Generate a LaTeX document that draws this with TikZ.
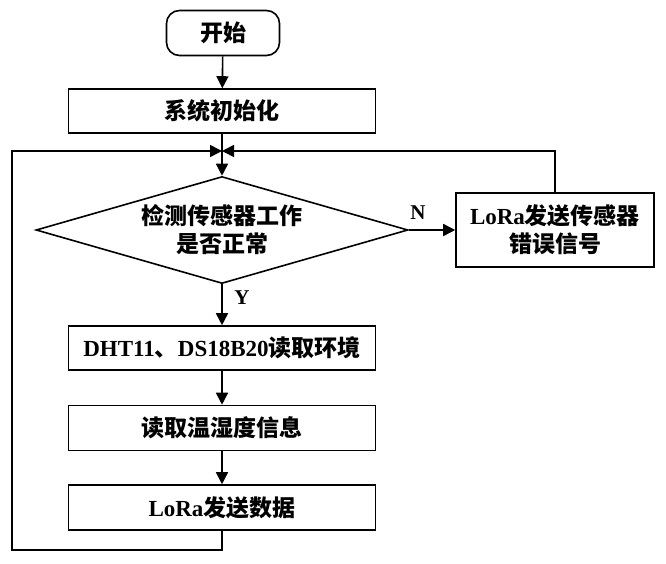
\documentclass[tikz,border=0pt]{standalone}
\usepackage{fontspec}
\setmainfont{Liberation Serif}
\newfontfamily\cjk{Noto Sans CJK SC}
\newcommand{\zh}[1]{{\cjk #1}}
\usetikzlibrary{shapes.geometric,arrows.meta}

\begin{document}
\begin{tikzpicture}[x=1pt,y=-1pt,line width=1.6pt,
    every node/.style={font=\bfseries\fontsize{23}{28}\selectfont},
    box/.style={draw,minimum width=307pt,minimum height=44pt,inner sep=0pt},
    startbox/.style={draw,rounded corners=13pt,minimum width=113pt,minimum height=45pt,inner sep=0pt},
    decide/.style={draw,diamond,aspect=3.48,minimum width=372pt,minimum height=107pt,inner sep=0pt,align=center},
    lbl/.style={font=\bfseries\fontsize{21}{24}\selectfont},
    arr/.style={-{Triangle[length=12pt,width=12pt]}}]
    \useasboundingbox (0,0) rectangle (666,563);

    % Main column
    \node[startbox] (start) at (223,33) {\zh{开始}};
    \node[box] (init) at (222,111) {\zh{系统初始化}};
    \coordinate (merge) at (222,151);
    \node[decide] (check) at (222,230) {\zh{检测传感器工作}\\\zh{是否正常}};
    \node[box] (dht) at (222,348) {DHT11\zh{、}DS18B20\zh{读取环境}};
    \node[box,minimum height=45pt] (read) at (222,428) {\zh{读取温湿度信息}};
    \node[box,minimum height=45pt] (send) at (222,507.5) {LoRa\zh{发送数据}};

    % Error branch
    \node[draw,minimum width=198pt,minimum height=74pt,inner sep=0pt,align=center] (err) at (555,230)
        {LoRa\zh{发送传感器}\\\zh{错误信号}};
    \node[lbl] (lblN) at (418,213) {N};
    \node[lbl] (lblY) at (242,298) {Y};

    % Loop corners
    \coordinate (loopB) at (12,550);
    \coordinate (loopL) at (12,151);

    % Connectors
    \draw[arr] (start) -- (init);
    \draw (init) -- (merge);
    \draw[arr] (merge) -- (check.north);
    \draw[arr] (check.east) -- (err.west);
    \draw[arr] (check.south) -- (dht.north);
    \draw[arr] (dht) -- (read);
    \draw[arr] (read) -- (send);
    \draw[arr] (err.north) |- (merge);
    \draw[arr] (send.south) |- (loopB) -- (loopL) -- (merge);
\end{tikzpicture}
\end{document}
